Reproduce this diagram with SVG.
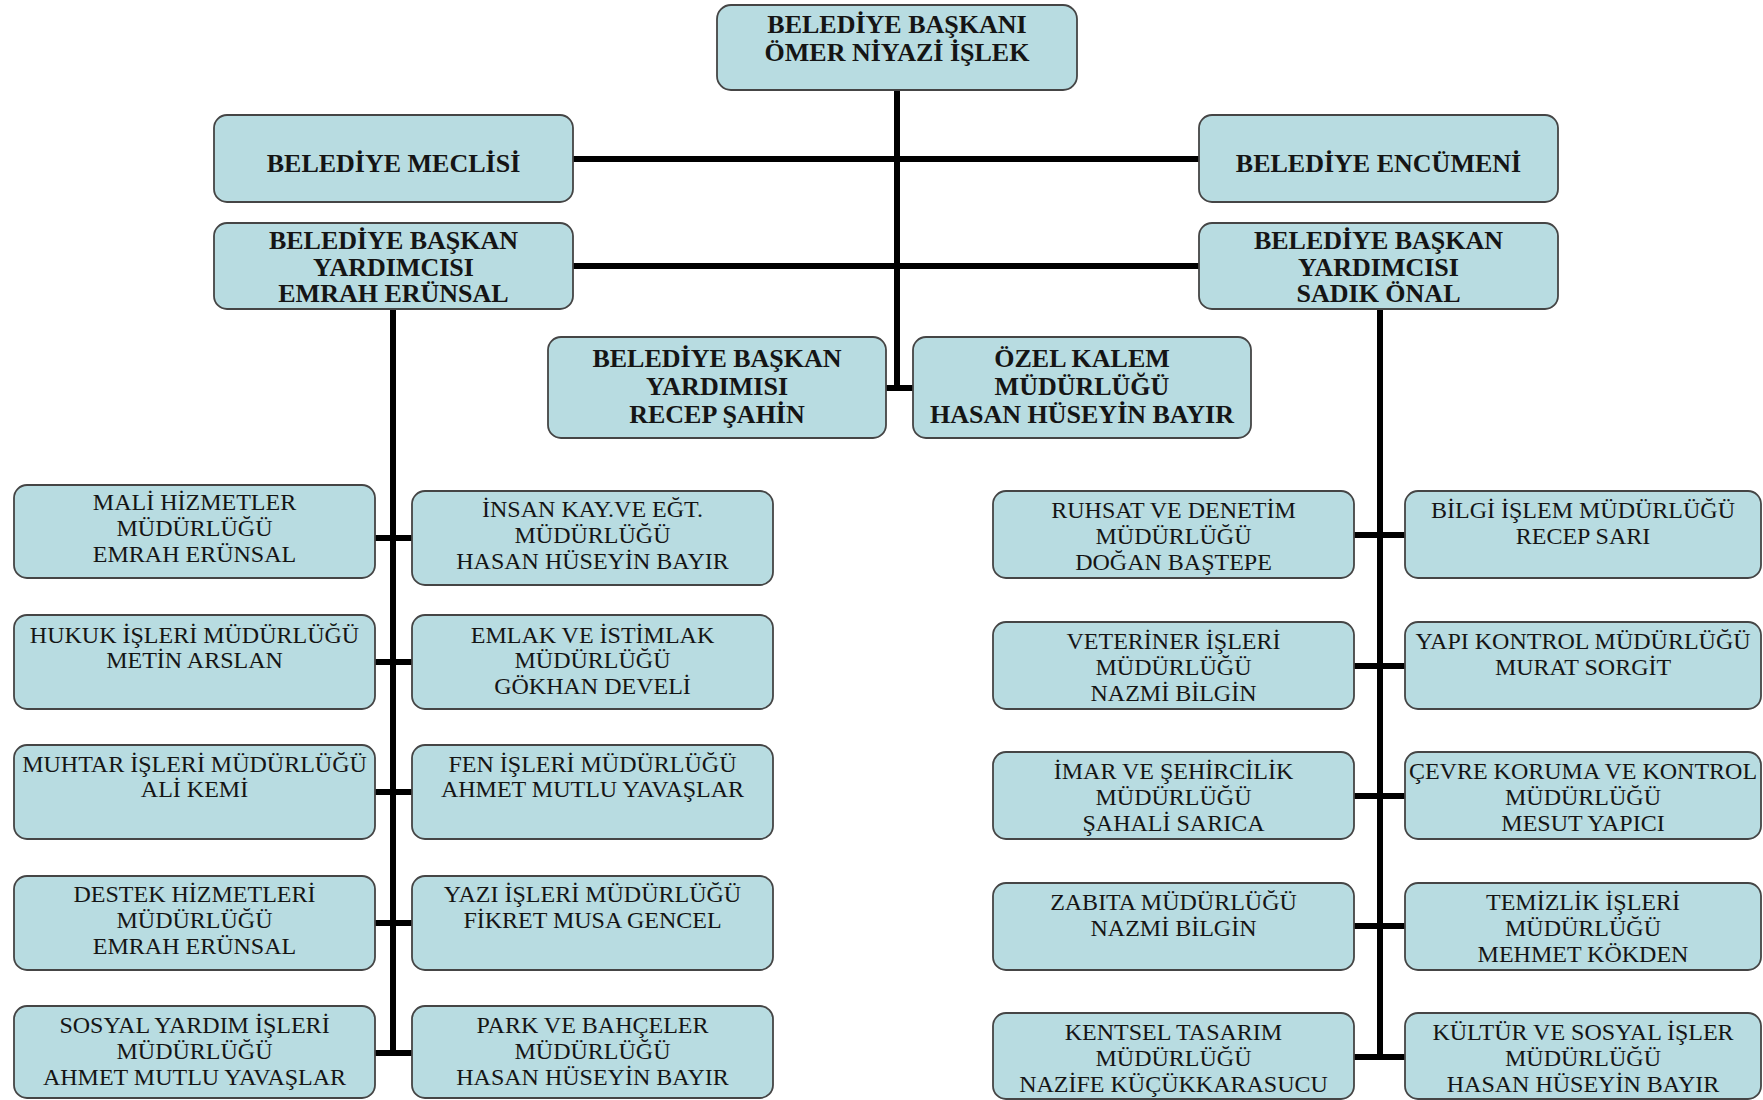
<svg xmlns="http://www.w3.org/2000/svg" width="1763" height="1100" viewBox="0 0 1763 1100">
<style>
.box{fill:#b8dce1;stroke:#454545;stroke-width:1.8}
.ln{stroke:#000;stroke-width:6;fill:none}
.b{font-family:"Liberation Serif","Times New Roman",serif;font-weight:bold;font-size:26px;text-anchor:middle;fill:#151515}
.r{font-family:"Liberation Serif","Times New Roman",serif;font-size:24px;text-anchor:middle;fill:#151515}
</style>
<rect width="1763" height="1100" fill="#fff"/>
<g id="connectors">
<line class="ln" x1="897" y1="90" x2="897" y2="388"/>
<line class="ln" x1="573" y1="159" x2="1199" y2="159"/>
<line class="ln" x1="573" y1="266" x2="1199" y2="266"/>
<line class="ln" x1="886" y1="388" x2="913" y2="388"/>
<line class="ln" x1="393" y1="310" x2="393" y2="1056"/>
<line class="ln" x1="375" y1="538" x2="412" y2="538"/>
<line class="ln" x1="375" y1="662" x2="412" y2="662"/>
<line class="ln" x1="375" y1="792" x2="412" y2="792"/>
<line class="ln" x1="375" y1="923" x2="412" y2="923"/>
<line class="ln" x1="375" y1="1053" x2="412" y2="1053"/>
<line class="ln" x1="1380" y1="310" x2="1380" y2="1060"/>
<line class="ln" x1="1354" y1="535" x2="1405" y2="535"/>
<line class="ln" x1="1354" y1="666" x2="1405" y2="666"/>
<line class="ln" x1="1354" y1="796" x2="1405" y2="796"/>
<line class="ln" x1="1354" y1="926" x2="1405" y2="926"/>
<line class="ln" x1="1354" y1="1057" x2="1405" y2="1057"/>
</g>
<g id="baskan"><rect class="box" x="717" y="5" width="360" height="85" rx="14"/>
<text class="b" x="897" y="33">BELEDİYE BAŞKANI</text><text class="b" x="897" y="61">ÖMER NİYAZİ İŞLEK</text></g>
<g id="meclis"><rect class="box" x="214" y="115" width="359" height="87" rx="13"/>
<text class="b" x="393.5" y="172">BELEDİYE MECLİSİ</text></g>
<g id="encumen"><rect class="box" x="1199" y="115" width="359" height="87" rx="13"/>
<text class="b" x="1378.5" y="172">BELEDİYE ENCÜMENİ</text></g>
<g id="byard-emrah"><rect class="box" x="214" y="223" width="359" height="86" rx="13"/>
<text class="b" x="393.5" y="249">BELEDİYE BAŞKAN</text><text class="b" x="393.5" y="275.5">YARDIMCISI</text><text class="b" x="393.5" y="302">EMRAH ERÜNSAL</text></g>
<g id="byard-sadik"><rect class="box" x="1199" y="223" width="359" height="86" rx="13"/>
<text class="b" x="1378.5" y="249">BELEDİYE BAŞKAN</text><text class="b" x="1378.5" y="275.5">YARDIMCISI</text><text class="b" x="1378.5" y="302">SADIK ÖNAL</text></g>
<g id="byard-recep"><rect class="box" x="548" y="337" width="338" height="101" rx="13"/>
<text class="b" x="717" y="367">BELEDİYE BAŞKAN</text><text class="b" x="717" y="395">YARDIMISI</text><text class="b" x="717" y="423">RECEP ŞAHİN</text></g>
<g id="ozel-kalem"><rect class="box" x="913" y="337" width="338" height="101" rx="13"/>
<text class="b" x="1082" y="367">ÖZEL KALEM</text><text class="b" x="1082" y="395">MÜDÜRLÜĞÜ</text><text class="b" x="1082" y="423">HASAN HÜSEYİN BAYIR</text></g>

<g id="mali"><rect class="box" x="14" y="485" width="361" height="93" rx="13"/>
<text class="r" x="194.5" y="510">MALİ HİZMETLER</text><text class="r" x="194.5" y="536">MÜDÜRLÜĞÜ</text><text class="r" x="194.5" y="562">EMRAH ERÜNSAL</text></g>
<g id="hukuk"><rect class="box" x="14" y="615" width="361" height="94" rx="13"/>
<text class="r" x="194.5" y="643">HUKUK İŞLERİ MÜDÜRLÜĞÜ</text><text class="r" x="194.5" y="668">METİN ARSLAN</text></g>
<g id="muhtar"><rect class="box" x="14" y="745" width="361" height="94" rx="13"/>
<text class="r" x="194.5" y="772">MUHTAR İŞLERİ MÜDÜRLÜĞÜ</text><text class="r" x="194.5" y="797">ALİ KEMİ</text></g>
<g id="destek"><rect class="box" x="14" y="876" width="361" height="94" rx="13"/>
<text class="r" x="194.5" y="902">DESTEK HİZMETLERİ</text><text class="r" x="194.5" y="928">MÜDÜRLÜĞÜ</text><text class="r" x="194.5" y="954">EMRAH ERÜNSAL</text></g>
<g id="sosyal"><rect class="box" x="14" y="1006" width="361" height="92" rx="13"/>
<text class="r" x="194.5" y="1033">SOSYAL YARDIM İŞLERİ</text><text class="r" x="194.5" y="1059">MÜDÜRLÜĞÜ</text><text class="r" x="194.5" y="1085">AHMET MUTLU YAVAŞLAR</text></g>

<g id="insan"><rect class="box" x="412" y="491" width="361" height="94" rx="13"/>
<text class="r" x="592.5" y="517">İNSAN KAY.VE EĞT.</text><text class="r" x="592.5" y="543">MÜDÜRLÜĞÜ</text><text class="r" x="592.5" y="569">HASAN HÜSEYİN BAYIR</text></g>
<g id="emlak"><rect class="box" x="412" y="615" width="361" height="94" rx="13"/>
<text class="r" x="592.5" y="643">EMLAK VE İSTİMLAK</text><text class="r" x="592.5" y="668">MÜDÜRLÜĞÜ</text><text class="r" x="592.5" y="694">GÖKHAN DEVELİ</text></g>
<g id="fen"><rect class="box" x="412" y="745" width="361" height="94" rx="13"/>
<text class="r" x="592.5" y="772">FEN İŞLERİ MÜDÜRLÜĞÜ</text><text class="r" x="592.5" y="797">AHMET MUTLU YAVAŞLAR</text></g>
<g id="yazi"><rect class="box" x="412" y="876" width="361" height="94" rx="13"/>
<text class="r" x="592.5" y="902">YAZI İŞLERİ MÜDÜRLÜĞÜ</text><text class="r" x="592.5" y="928">FİKRET MUSA GENCEL</text></g>
<g id="park"><rect class="box" x="412" y="1006" width="361" height="92" rx="13"/>
<text class="r" x="592.5" y="1033">PARK VE BAHÇELER</text><text class="r" x="592.5" y="1059">MÜDÜRLÜĞÜ</text><text class="r" x="592.5" y="1085">HASAN HÜSEYİN BAYIR</text></g>

<g id="ruhsat"><rect class="box" x="993" y="491" width="361" height="87" rx="13"/>
<text class="r" x="1173.5" y="518">RUHSAT VE DENETİM</text><text class="r" x="1173.5" y="544">MÜDÜRLÜĞÜ</text><text class="r" x="1173.5" y="570">DOĞAN BAŞTEPE</text></g>
<g id="veteriner"><rect class="box" x="993" y="622" width="361" height="87" rx="13"/>
<text class="r" x="1173.5" y="649">VETERİNER İŞLERİ</text><text class="r" x="1173.5" y="675">MÜDÜRLÜĞÜ</text><text class="r" x="1173.5" y="701">NAZMİ BİLGİN</text></g>
<g id="imar"><rect class="box" x="993" y="752" width="361" height="87" rx="13"/>
<text class="r" x="1173.5" y="779">İMAR VE ŞEHİRCİLİK</text><text class="r" x="1173.5" y="805">MÜDÜRLÜĞÜ</text><text class="r" x="1173.5" y="831">ŞAHALİ SARICA</text></g>
<g id="zabita"><rect class="box" x="993" y="883" width="361" height="87" rx="13"/>
<text class="r" x="1173.5" y="910">ZABITA MÜDÜRLÜĞÜ</text><text class="r" x="1173.5" y="936">NAZMİ BİLGİN</text></g>
<g id="kentsel"><rect class="box" x="993" y="1013" width="361" height="86" rx="13"/>
<text class="r" x="1173.5" y="1040">KENTSEL TASARIM</text><text class="r" x="1173.5" y="1066">MÜDÜRLÜĞÜ</text><text class="r" x="1173.5" y="1092">NAZİFE KÜÇÜKKARASUCU</text></g>

<g id="bilgi"><rect class="box" x="1405" y="491" width="356" height="87" rx="13"/>
<text class="r" x="1583" y="518">BİLGİ İŞLEM MÜDÜRLÜĞÜ</text><text class="r" x="1583" y="544">RECEP SARI</text></g>
<g id="yapi"><rect class="box" x="1405" y="622" width="356" height="87" rx="13"/>
<text class="r" x="1583" y="649">YAPI KONTROL MÜDÜRLÜĞÜ</text><text class="r" x="1583" y="675">MURAT SORGİT</text></g>
<g id="cevre"><rect class="box" x="1405" y="752" width="356" height="87" rx="13"/>
<text class="r" x="1583" y="779">ÇEVRE KORUMA VE KONTROL</text><text class="r" x="1583" y="805">MÜDÜRLÜĞÜ</text><text class="r" x="1583" y="831">MESUT YAPICI</text></g>
<g id="temizlik"><rect class="box" x="1405" y="883" width="356" height="87" rx="13"/>
<text class="r" x="1583" y="910">TEMİZLİK İŞLERİ</text><text class="r" x="1583" y="936">MÜDÜRLÜĞÜ</text><text class="r" x="1583" y="962">MEHMET KÖKDEN</text></g>
<g id="kultur"><rect class="box" x="1405" y="1013" width="356" height="86" rx="13"/>
<text class="r" x="1583" y="1040">KÜLTÜR VE SOSYAL İŞLER</text><text class="r" x="1583" y="1066">MÜDÜRLÜĞÜ</text><text class="r" x="1583" y="1092">HASAN HÜSEYİN BAYIR</text></g>
</svg>
